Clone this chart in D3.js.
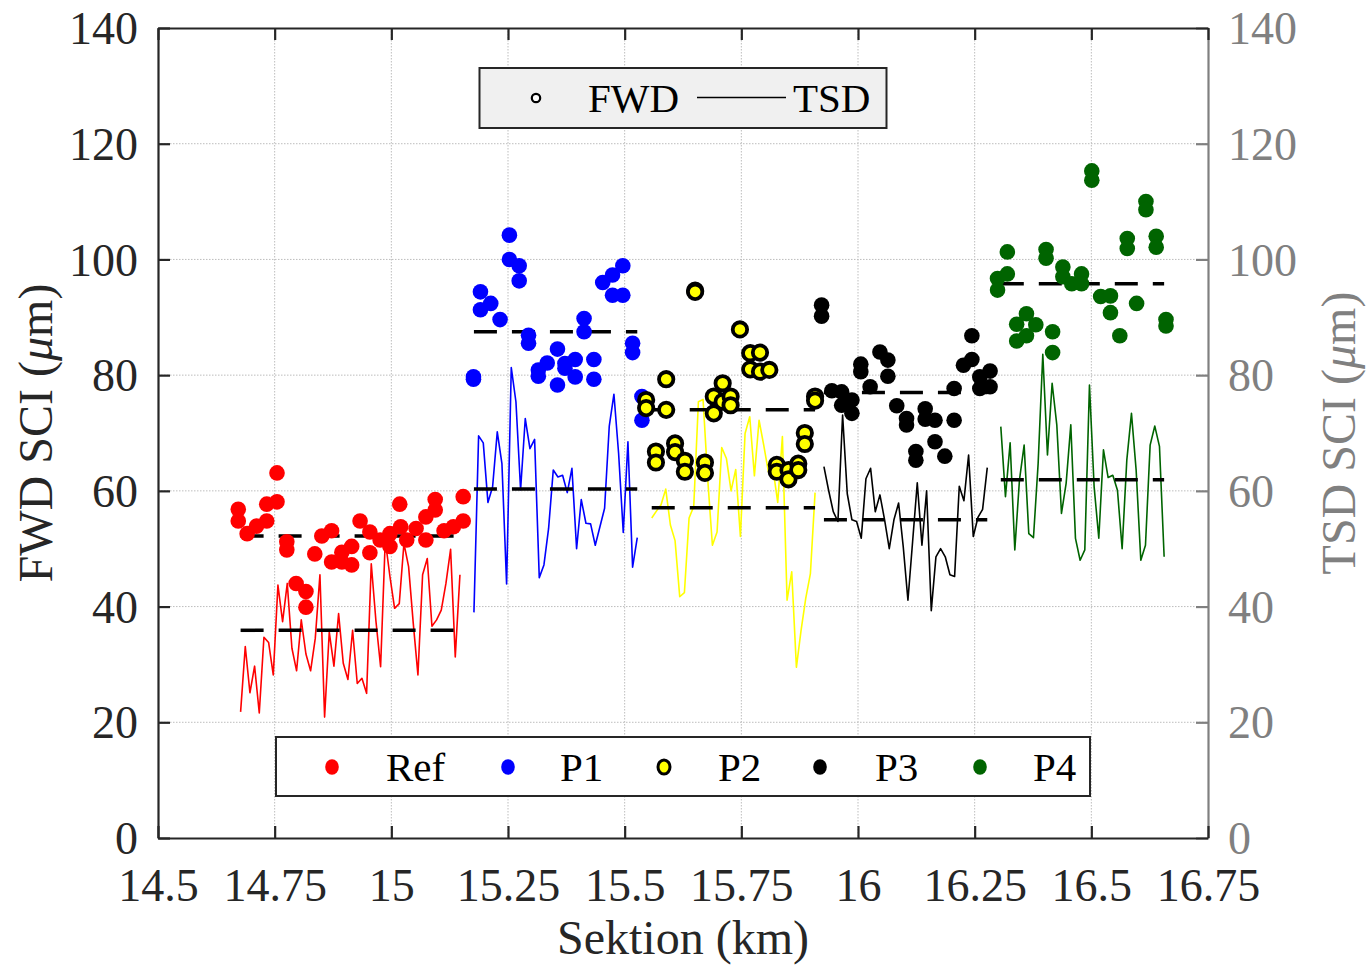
<!DOCTYPE html>
<html>
<head>
<meta charset="utf-8">
<script src="https://cdn.jsdelivr.net/npm/d3@7/dist/d3.min.js"></script>
<style>
  html, body { margin: 0; padding: 0; background: #ffffff; }
  svg { display: block; font-family: "Liberation Serif", "Times New Roman", serif; }
</style>
</head>
<body>
<svg id="chart" width="1371" height="967"></svg>
<script>
// ---- axis ticks ----
const xTicks = [14.5, 14.75, 15, 15.25, 15.5, 15.75, 16, 16.25, 16.5, 16.75];
const xTickLabels = ["14.5", "14.75", "15", "15.25", "15.5", "15.75", "16", "16.25", "16.5", "16.75"];
const yTicks = [0, 20, 40, 60, 80, 100, 120, 140];

// ---- sections ----
const sections = ["Ref", "P1", "P2", "P3", "P4"];

// ---- FWD SCI (µm) per drop position (km) ----
const refFwdKm = [14.672,14.672,14.691,14.711,14.733,14.733,14.755,14.755,14.776,14.776,14.796,14.817,14.817,14.836,14.851,14.872,14.872,14.894,14.894,14.915,14.915,14.933,14.954,14.954,14.976,14.997,14.997,15.018,15.020,15.033,15.053,15.074,15.074,15.094,15.094,15.113,15.133,15.154,15.154];
const refFwdSci = [56.8,54.8,52.6,53.9,54.8,57.7,58.1,63.1,51.2,49.8,44.0,42.6,39.9,49.1,52.2,53.1,47.7,47.7,49.4,47.2,50.4,54.8,52.9,49.3,51.5,52.6,50.4,57.7,53.8,51.5,53.5,51.5,55.5,56.7,58.5,53.1,53.8,54.8,59.0];

const p1FwdKm = [15.176,15.176,15.191,15.191,15.213,15.233,15.253,15.253,15.274,15.274,15.294,15.294,15.315,15.315,15.334,15.356,15.356,15.372,15.372,15.394,15.394,15.413,15.413,15.434,15.434,15.453,15.474,15.474,15.496,15.496,15.517,15.517,15.537,15.537];
const p1FwdSci = [79.7,79.3,94.4,91.3,92.4,89.6,104.2,100.0,98.9,96.3,86.9,85.5,80.9,79.8,82.1,84.5,78.3,82.0,81.2,82.7,79.7,89.8,87.5,82.7,79.3,96.0,97.3,93.8,98.9,93.8,85.5,83.9,76.3,72.2];

const p2FwdKm = [15.546,15.546,15.567,15.567,15.589,15.589,15.608,15.608,15.629,15.629,15.651,15.651,15.672,15.672,15.691,15.691,15.710,15.710,15.727,15.727,15.747,15.769,15.769,15.790,15.790,15.810,15.826,15.826,15.851,15.851,15.872,15.872,15.886,15.886,15.908,15.908];
const p2FwdSci = [75.7,74.3,66.8,64.9,79.3,74.0,68.2,66.7,65.2,63.3,94.6,94.4,64.9,63.1,76.3,73.4,78.6,75.4,76.3,74.8,87.9,83.8,81.0,83.9,80.6,80.9,64.5,63.3,63.6,62.0,64.7,63.6,70.0,68.1,76.3,75.6];

const p3FwdKm = [15.922,15.922,15.944,15.965,15.965,15.987,15.987,16.006,16.006,16.026,16.047,16.064,16.064,16.083,16.104,16.104,16.124,16.124,16.144,16.144,16.165,16.165,16.186,16.206,16.206,16.226,16.244,16.244,16.261,16.261,16.283,16.283];
const p3FwdSci = [92.1,90.2,77.3,77.1,74.8,75.7,73.4,81.9,80.6,78.0,84.0,82.6,79.8,74.7,72.5,71.4,66.8,65.3,74.2,72.4,72.2,68.5,66.0,77.7,72.2,81.7,86.8,82.7,79.7,77.7,80.7,78.0];

const p4FwdKm = [16.299,16.299,16.320,16.320,16.340,16.340,16.361,16.361,16.381,16.403,16.403,16.417,16.417,16.439,16.439,16.458,16.479,16.479,16.501,16.501,16.520,16.541,16.541,16.561,16.577,16.577,16.597,16.617,16.617,16.639,16.639,16.660,16.660];
const p4FwdSci = [96.7,94.7,101.3,97.5,88.8,85.9,90.6,86.8,88.7,101.7,100.2,87.5,83.9,98.7,97.0,95.8,97.5,95.8,115.3,113.7,93.6,93.7,90.8,86.8,103.6,101.9,92.4,110.0,108.6,104.0,102.1,89.6,88.5];

// ---- TSD SCI (µm), sampled every 10 m from each section's start (km) ----
const tsdStepKm = 0.01;
const tsdStartKm = [14.677, 15.177, 15.558, 15.927, 16.306];
const refTsd = [21.8,33.1,25.1,29.7,21.6,34.7,33.8,28.2,43.7,37.4,44.0,32.8,28.9,37.7,31.8,28.9,34.5,45.5,20.9,35.6,29.7,38.8,30.2,27.4,35.9,26.7,27.6,25.0,47.4,37.5,29.6,51.5,45.2,39.7,40.5,50.9,46.9,37.1,28.2,45.5,48.3,36.6,37.7,39.4,44.0,49.9,31.3,45.5];
const p1Tsd = [39.0,69.5,68.3,58.0,60.7,70.2,64.7,43.9,81.3,75.4,60.2,72.5,67.3,68.9,45.0,47.2,53.5,63.6,62.4,62.7,59.7,63.9,50.0,58.5,54.4,54.3,50.6,53.8,57.0,71.2,76.7,66.5,52.8,68.5,46.8,51.9];
const p2Tsd = [55.3,56.5,57.6,60.3,54.1,51.4,41.7,42.4,55.3,57.3,75.4,75.8,62.0,50.6,52.9,67.5,65.6,60.0,63.7,52.1,69.9,72.8,62.6,72.2,67.9,63.3,63.7,58.0,69.4,41.1,46.0,29.5,35.9,41.4,45.7,59.7];
const p3Tsd = [64.2,60.1,56.4,54.7,73.1,59.5,55.0,54.7,51.8,62.1,63.9,56.4,59.3,55.0,50.0,55.0,57.9,50.3,41.1,51.2,61.4,50.6,60.0,39.3,48.6,50.0,48.6,45.5,45.2,60.8,58.3,66.2,52.1,55.4,56.8,64.0];
const p4Tsd = [71.1,59.0,68.3,49.8,61.9,67.9,52.6,51.9,64.7,83.6,66.2,78.6,71.4,56.1,61.3,71.4,51.8,48.0,49.8,78.3,60.7,51.8,67.1,62.3,62.7,60.1,50.0,65.3,73.4,63.6,48.0,50.6,67.9,71.2,67.7,48.6];

// ---- section means (µm) ----
const fwdMean = [52.2, 87.5, 74.0, 77.0, 95.8];
const tsdMean = [35.9, 60.3, 57.1, 55.0, 61.9];

// ---- styling ----
const sectionColors = ["#ff0000", "#0000ff", "#ffff00", "#000000", "#006400"];
const serif = '"Liberation Serif", "Times New Roman", serif';

const fwdKm = [refFwdKm, p1FwdKm, p2FwdKm, p3FwdKm, p4FwdKm];
const fwdSci = [refFwdSci, p1FwdSci, p2FwdSci, p3FwdSci, p4FwdSci];
const tsdSci = [refTsd, p1Tsd, p2Tsd, p3Tsd, p4Tsd];

const plot = { left: 158, right: 1208, top: 28, bottom: 838 };
const x = d3.scaleLinear().domain([14.5, 16.75]).range([plot.left, plot.right]);
const yL = d3.scaleLinear().domain([0, 140]).range([plot.bottom, plot.top]);
const yR = d3.scaleLinear().domain([0, 140]).range([plot.bottom, plot.top]);

const svg = d3.select("#chart");

// grid
const grid = svg.append("g");
grid.selectAll("line.gx").data(xTicks.slice(1, -1)).join("line")
  .attr("x1", d => x(d)).attr("x2", d => x(d))
  .attr("y1", plot.top).attr("y2", plot.bottom)
  .attr("stroke", "#bdbdbd").attr("stroke-width", 1).attr("stroke-dasharray", "1.5,1.5");
grid.selectAll("line.gy").data(yTicks.slice(1, -1)).join("line")
  .attr("x1", plot.left).attr("x2", plot.right)
  .attr("y1", d => yL(d)).attr("y2", d => yL(d))
  .attr("stroke", "#bdbdbd").attr("stroke-width", 1).attr("stroke-dasharray", "1.5,1.5");

// TSD lines
const tsdPts = tsdSci.map((vals, s) => vals.map((v, i) => [tsdStartKm[s] + i * tsdStepKm, v]));
const line = d3.line().x(d => x(d[0])).y(d => yR(d[1]));
svg.append("g").selectAll("path").data(tsdPts).join("path")
  .attr("d", line)
  .attr("fill", "none")
  .attr("stroke", (d, i) => sectionColors[i])
  .attr("stroke-width", 1.6)
  .attr("stroke-linejoin", "round");

// dashed section means
const meanG = svg.append("g");
sections.forEach((s, i) => {
  const x0 = tsdPts[i][0][0], x1 = tsdPts[i][tsdPts[i].length - 1][0];
  [[fwdMean[i], yL], [tsdMean[i], yR]].forEach(([m, sc]) => {
    meanG.append("line")
      .attr("x1", x(x0)).attr("x2", x(x1))
      .attr("y1", sc(m)).attr("y2", sc(m))
      .attr("stroke", "#000").attr("stroke-width", 3.5)
      .attr("stroke-dasharray", "23,15");
  });
});

// FWD markers
const markG = svg.append("g");
sections.forEach((s, i) => {
  const pts = fwdKm[i].map((k, j) => [k, fwdSci[i][j]]);
  markG.append("g").selectAll("circle").data(pts).join("circle")
    .attr("cx", d => x(d[0]))
    .attr("cy", d => yL(d[1]))
    .attr("r", s === "P2" ? 7.2 : 7.8)
    .attr("fill", sectionColors[i])
    .attr("stroke", s === "P2" ? "#000" : "none")
    .attr("stroke-width", s === "P2" ? 3.8 : 0);
});

// axes
const axisColor = "#262626";
const rightColor = "#808080";
const tickFont = 46;

const gL = svg.append("g").attr("transform", `translate(${plot.left},0)`)
  .call(d3.axisLeft(yL).tickValues(yTicks).tickSizeInner(-12).tickSizeOuter(0).tickPadding(20));
const gR = svg.append("g").attr("transform", `translate(${plot.right},0)`)
  .call(d3.axisRight(yR).tickValues(yTicks).tickSizeInner(-12).tickSizeOuter(0).tickPadding(20));
const gB = svg.append("g").attr("transform", `translate(0,${plot.bottom})`)
  .call(d3.axisBottom(x).tickValues(xTicks).tickFormat((d, i) => xTickLabels[i]).tickSizeInner(-12).tickSizeOuter(0).tickPadding(30));
const gT = svg.append("g").attr("transform", `translate(0,${plot.top})`)
  .call(d3.axisTop(x).tickValues(xTicks).tickFormat("").tickSizeInner(-12).tickSizeOuter(0));

[gL, gB, gT].forEach(g => {
  g.selectAll(".domain").attr("stroke", axisColor).attr("stroke-width", 2.2);
  g.selectAll(".tick line").attr("stroke", axisColor).attr("stroke-width", 2.2);
  g.selectAll(".tick text").attr("fill", axisColor).attr("font-family", serif).attr("font-size", tickFont);
});
gR.selectAll(".domain").attr("stroke", rightColor).attr("stroke-width", 2.2);
gR.selectAll(".tick line").attr("stroke", rightColor).attr("stroke-width", 2.2);
gR.selectAll(".tick text").attr("fill", rightColor).attr("font-family", serif).attr("font-size", tickFont);
[gL, gR].forEach(g => g.selectAll(".tick text").attr("dy", "0.34em"));

// axis titles
const title = (g, color) => g.attr("fill", color).attr("font-family", serif).attr("font-size", 48);
const tL = svg.append("text").attr("text-anchor", "middle")
  .attr("transform", `translate(52,${(plot.top + plot.bottom) / 2}) rotate(-90)`);
title(tL, axisColor);
tL.append("tspan").text("FWD SCI (");
tL.append("tspan").attr("font-style", "italic").text("\u03bc");
tL.append("tspan").text("m)");

const tR = svg.append("text").attr("text-anchor", "middle")
  .attr("transform", `translate(1355,${(plot.top + plot.bottom) / 2}) rotate(-90)`);
title(tR, rightColor);
tR.append("tspan").text("TSD SCI (");
tR.append("tspan").attr("font-style", "italic").text("\u03bc");
tR.append("tspan").text("m)");

title(svg.append("text").attr("text-anchor", "middle")
  .attr("x", (plot.left + plot.right) / 2).attr("y", 954), axisColor)
  .text("Sektion (km)");

// legend: measurement type
const lg1 = svg.append("g");
lg1.append("rect").attr("x", 479.5).attr("y", 68).attr("width", 407).attr("height", 60)
  .attr("fill", "#f0f0f0").attr("stroke", axisColor).attr("stroke-width", 2);
lg1.append("circle").attr("cx", 536).attr("cy", 98).attr("r", 4.2)
  .attr("fill", "#fff").attr("stroke", "#000").attr("stroke-width", 2.2);
lg1.append("text").attr("x", 588).attr("y", 112).attr("font-family", serif).attr("font-size", 41)
  .attr("fill", "#000").text("FWD");
lg1.append("line").attr("x1", 697).attr("x2", 786).attr("y1", 97.5).attr("y2", 97.5)
  .attr("stroke", "#000").attr("stroke-width", 1.6);
lg1.append("text").attr("x", 793).attr("y", 112).attr("font-family", serif).attr("font-size", 41)
  .attr("fill", "#000").text("TSD");

// legend: sections
const legendDotX = [332, 508, 664, 820, 980];
const legendTextX = [386, 560, 718, 875, 1033];
const lg2 = svg.append("g");
lg2.append("rect").attr("x", 276).attr("y", 737).attr("width", 814).attr("height", 59)
  .attr("fill", "#fff").attr("stroke", axisColor).attr("stroke-width", 2);
sections.forEach((s, i) => {
  lg2.append("ellipse").attr("cx", legendDotX[i]).attr("cy", 767)
    .attr("rx", s === "P2" ? 6 : 6.8).attr("ry", s === "P2" ? 7 : 7.8)
    .attr("fill", sectionColors[i])
    .attr("stroke", s === "P2" ? "#000" : "none").attr("stroke-width", s === "P2" ? 3 : 0);
  lg2.append("text").attr("x", legendTextX[i]).attr("y", 781)
    .attr("font-family", serif).attr("font-size", 41).attr("fill", "#000").text(s);
});
</script>
</body>
</html>
